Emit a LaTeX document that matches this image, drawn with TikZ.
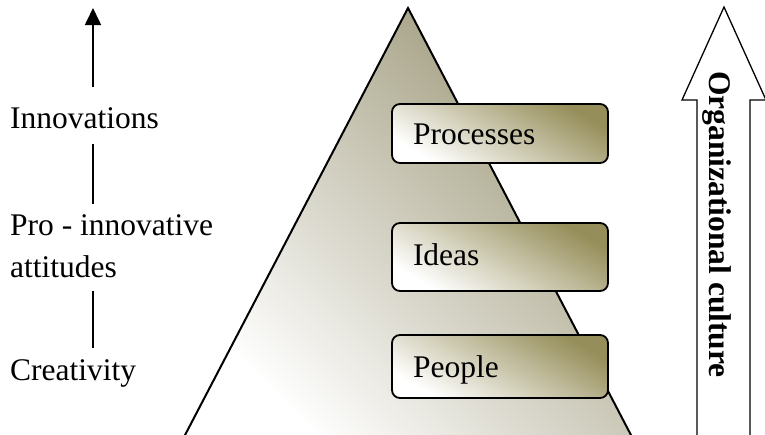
\documentclass[tikz,border=0pt]{standalone}
\usepackage{fontspec}
\setmainfont{Liberation Serif}
\usetikzlibrary{positioning,arrows.meta}
\definecolor{pyrtop}{RGB}{156,151,120}
\definecolor{boxtop}{RGB}{150,142,90}

\begin{document}
\begin{tikzpicture}[
x=1pt,y=-1pt,
stage/.style={
  anchor=base west,
  inner sep=0pt,
  align=left,
  font=\fontsize{31.5}{42}\selectfont
  },
level/.style={
  draw,
  line width=1.8pt,
  rounded corners=8pt,
  shading=axis,
  top color=boxtop,
  bottom color=white,
  shading angle=-30,
  inner xsep=21pt,
  inner ysep=0pt,
  text width=174pt,
  text height=21pt,
  align=left,
  font=\fontsize{31.5}{42}\selectfont
  },
link/.style={
  line width=1.7pt
  },
>={Triangle[length=17pt,width=16pt]}
]
\useasboundingbox (0,0) rectangle (765,434);

% pyramid
\coordinate (apex) at (408,8);
\coordinate (baseL) at (184,437);
\coordinate (baseR) at (632,437);
\shade[top color=pyrtop, bottom color=white, shading angle=-45]
  (baseL) -- (apex) -- (baseR) -- cycle;
\draw[line width=2pt] (baseL) -- (apex) -- (baseR);

\foreach \name/\txt/\ypos/\boxh/\tdep in {proc/Processes/133.5/59/0, ideas/Ideas/257/68/5, people/People/366.5/63/0}
  \node[level, minimum height=\boxh pt, text depth=\tdep pt] (\name) at (500,\ypos) {\txt};

% left side
\node[stage] (innov) at (10,128) {Innovations};
\node[stage] (pro) at (10,277) {Pro - innovative\\attitudes};
\node[stage] (crea) at (10,380) {Creativity};
\coordinate (axis) at (93,8);

\draw[link,->,shorten <=20pt] (innov.north -| axis) -- (axis);
\draw[link,shorten <=15pt,shorten >=10pt] (innov.south -| axis) -- (pro.north -| axis);
\draw[link,shorten <=13pt,shorten >=11pt] (pro.south -| axis) -- (crea.north -| axis);

% culture arrow
\draw[line width=1.3pt] (697,437) -- (697,100) -- (682,100) -- (724,7)
  -- (766,100) -- (750,100) -- (750,437);
\node[rotate=-90, anchor=base west, inner sep=0pt,
  font=\fontsize{31.5}{42}\selectfont\bfseries] (culture) at (709,71) {Organizational culture};
\end{tikzpicture}
\end{document}
